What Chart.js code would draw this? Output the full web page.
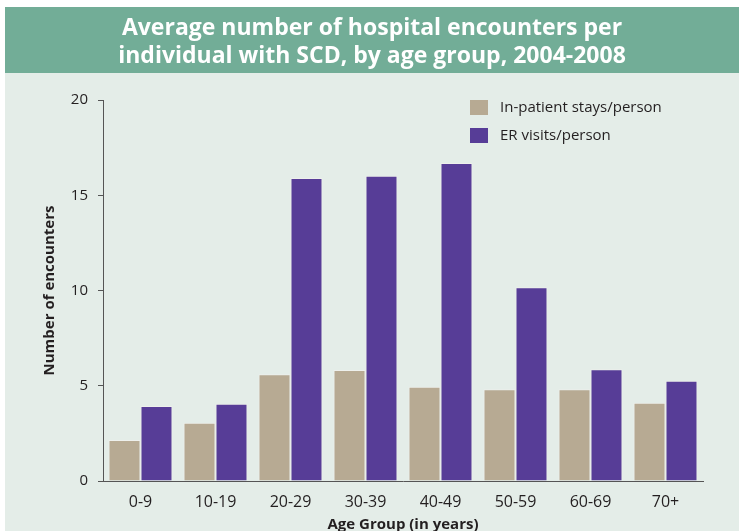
<!DOCTYPE html>
<html>
<head>
<meta charset="utf-8">
<script src="https://cdn.jsdelivr.net/npm/chart.js@4/dist/chart.umd.min.js"></script>
<style>
  html, body { margin: 0; padding: 0; background: #ffffff; }
  #wrap { width: 739px; height: 531px; position: relative; }
</style>
</head>
<body>
<div id="wrap"><canvas id="c" width="739" height="531"></canvas></div>
<script>
// ---- data ----
const titleLines = ["Average number of hospital encounters per", "individual with SCD, by age group, 2004-2008"];
const ageGroups = ["0-9", "10-19", "20-29", "30-39", "40-49", "50-59", "60-69", "70+"];
const inpatientStays = [2.15, 3.06, 5.6, 5.83, 4.95, 4.82, 4.82, 4.11];
const erVisits = [3.94, 4.06, 15.9, 16.02, 16.69, 10.17, 5.86, 5.26];
const seriesNames = ["In-patient stays/person", "ER visits/person"];
const yTitle = "Number of encounters";
const xTitle = "Age Group (in years)";

const FONT = "'Open Sans', 'Noto Sans', sans-serif";
const TEXT = "#231f20";

const backgroundPlugin = {
  id: 'panel',
  beforeDraw(chart) {
    const ctx = chart.ctx;
    ctx.save();
    ctx.fillStyle = '#ffffff';
    ctx.fillRect(0, 0, chart.width, chart.height);
    ctx.fillStyle = '#e4ede8';
    ctx.fillRect(5, 7, chart.width - 5, chart.height - 7);
    ctx.fillStyle = '#72ad97';
    ctx.fillRect(5, 7, chart.width - 5, 66);
    ctx.fillStyle = '#ffffff';
    ctx.font = "bold 23px " + FONT;
    ctx.textAlign = 'center';
    ctx.textBaseline = 'alphabetic';
    ctx.fillText(titleLines[0], 372, 35);
    ctx.fillText(titleLines[1], 372, 63);
    ctx.restore();
  }
};

const legendPlugin = {
  id: 'insideLegend',
  afterDraw(chart) {
    const ctx = chart.ctx;
    ctx.save();
    chart.data.datasets.forEach((ds, i) => {
      const y = 100 + i * 28;
      ctx.fillStyle = ds.backgroundColor;
      ctx.fillRect(470, y, 18, 15);
      ctx.fillStyle = TEXT;
      ctx.font = "15px " + FONT;
      ctx.textAlign = 'left';
      ctx.textBaseline = 'middle';
      ctx.fillText(ds.label, 500, y + 7.5);
    });
    ctx.restore();
  }
};

new Chart(document.getElementById('c'), {
  type: 'bar',
  data: {
    labels: ageGroups,
    datasets: [
      { label: seriesNames[0], data: inpatientStays, backgroundColor: '#b7aa93',
        borderColor: '#eef0ec', borderWidth: { top: 1, left: 1, right: 1, bottom: 0 } },
      { label: seriesNames[1], data: erVisits, backgroundColor: '#573d97',
        borderColor: '#eef0ec', borderWidth: { top: 1, left: 1, right: 1, bottom: 0 } }
    ]
  },
  options: {
    responsive: false,
    animation: false,
    devicePixelRatio: 1,
    layout: { padding: { top: 100, left: 0, right: 36, bottom: 0 } },
    datasets: { bar: { categoryPercentage: 0.853, barPercentage: 1.0 } },
    plugins: {
      legend: { display: false },
      title: { display: false },
      tooltip: { enabled: false }
    },
    scales: {
      x: {
        grid: { display: false, drawTicks: false },
        border: { display: true, color: '#555555', width: 1 },
        ticks: { color: TEXT, font: { family: FONT, size: 16 }, padding: 12, maxRotation: 0 },
        title: { display: true, text: xTitle, color: TEXT,
                 font: { family: FONT, size: 15, weight: 'bold', lineHeight: 0.8 },
                 padding: { top: 0, bottom: 0 } },
        afterFit(scale) { scale.height = 50; }
      },
      y: {
        min: 0, max: 20,
        grid: { drawOnChartArea: false, drawTicks: true, tickLength: 5, color: '#555555' },
        border: { display: true, color: '#555555', width: 1 },
        ticks: { stepSize: 5, color: TEXT, font: { family: FONT, size: 15 }, padding: 10 },
        title: { display: true, text: yTitle, color: TEXT,
                 font: { family: FONT, size: 15, weight: 'bold', lineHeight: 1 },
                 padding: { top: 42, bottom: 0 } },
        afterFit(scale) { scale.width = 103; }
      }
    }
  },
  plugins: [backgroundPlugin, legendPlugin]
});
</script>
</body>
</html>
